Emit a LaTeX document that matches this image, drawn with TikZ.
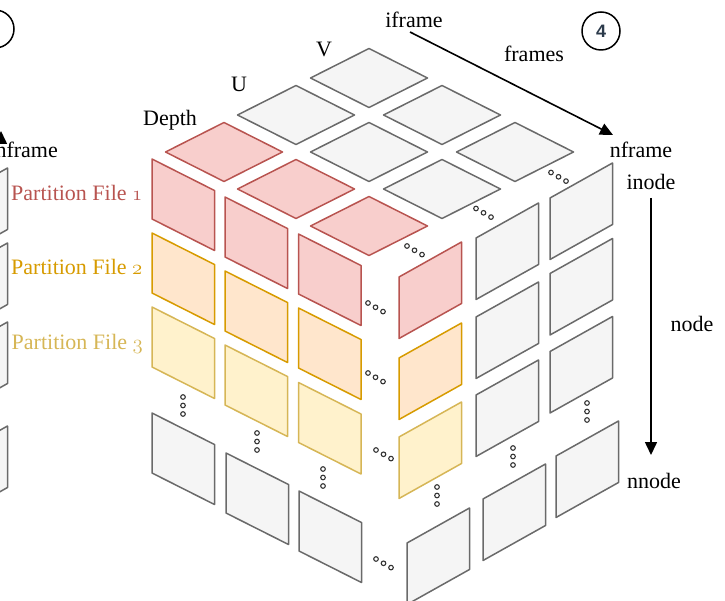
\documentclass[tikz,border=0pt]{standalone}
\usepackage{fontspec}
\setmainfont{Liberation Serif}
\newfontfamily\badgefont{Liberation Sans}
\usetikzlibrary{arrows.meta}
\definecolor{redfill}{HTML}{F8CECC}
\definecolor{redline}{HTML}{B85450}
\definecolor{orgfill}{HTML}{FFE6CC}
\definecolor{orgline}{HTML}{D79B00}
\definecolor{yelfill}{HTML}{FFF2CC}
\definecolor{yelline}{HTML}{D6B656}
\definecolor{grayfill}{HTML}{F5F5F5}
\definecolor{grayline}{HTML}{6A6A6A}
\definecolor{dotline}{HTML}{333333}
\definecolor{badgeink}{HTML}{2B3A4B}
% old-style digits taken from the math italic font
\newcommand\osfig[1]{{\usefont{OML}{cmm}{m}{it}#1}}

\begin{document}
\begin{tikzpicture}[x=1pt,y=-1pt,
  tile/.style={line width=1.5pt,line join=round},
  redtile/.style={tile,fill=redfill,draw=redline},
  orgtile/.style={tile,fill=orgfill,draw=orgline},
  yeltile/.style={tile,fill=yelfill,draw=yelline},
  graytile/.style={tile,fill=grayfill,draw=grayline},
  dotmark/.style={draw=dotline,fill=white,line width=1.1pt},
  lbl/.style={inner sep=0pt,font=\fontsize{22}{26}\selectfont},
  flow/.style={line width=1.6pt,-{Triangle[length=13pt,width=12pt]}},
  badge/.style={circle,draw=black,line width=1.5pt,minimum size=38pt,inner sep=0pt,
    font=\badgefont\bfseries\fontsize{18}{20}\selectfont,text=badgeink}
]
\clip (0,0) rectangle (725,601);

% top face: 3x3 rhombi
\foreach \cx/\cy/\s in {369/78/graytile, 296/115/graytile, 442/115/graytile,
    224/152/redtile, 369/152/graytile, 515/152/graytile,
    296/189/redtile, 442/189/graytile, 369/226/redtile}
  \draw[\s] (\cx-58.5,\cy) -- ++(58.5,-29.5) -- ++(58.5,29.5) -- ++(-58.5,29.5) -- cycle;

% front-left face
\foreach \px/\py/\s in {152/159/redtile, 152/233/orgtile, 152/307/yeltile, 152/413/graytile,
    225/197/redtile, 225/271/orgtile, 225/345/yeltile, 226/453/graytile,
    298.5/234/redtile, 298.5/308/orgtile, 298.5/382.5/yeltile, 299/491/graytile}
  \draw[\s] (\px,\py) -- ++(62.5,31.5) -- ++(0,60) -- ++(-62.5,-31.5) -- cycle;

% front-right face
\foreach \px/\py/\s in {399/277/redtile, 399/358/orgtile, 399/437/yeltile, 407/543/graytile,
    476/238/graytile, 476/317/graytile, 476/395/graytile, 483/499/graytile,
    550/198/graytile, 550/273.5/graytile, 550/351.5/graytile, 556/456/graytile}
  \draw[\s] (\px,\py) -- ++(62.5,-35) -- ++(0,61.5) -- ++(-62.5,35) -- cycle;

% neighbouring cube, cut at the left border
\foreach \ty in {168,243,322,426}
  \draw[graytile] (7.5,\ty) -- ++(0,61.5) -- ++(-62.5,35) -- ++(0,-61.5) -- cycle;
\node[badge] (badgeL) at (-5,29) {};
\node[lbl,anchor=base east] (nframeL) at (58,158) {nframe};
\coordinate (lstart) at (1,143);
\coordinate (lend) at (1,131);
\draw[flow] (lstart) -- (lend);

% ellipsis dots along the diagonals
\foreach \x/\y in {407/246, 476/208.5, 551/172.5, 368/303, 368/373, 376/450, 376/559}
  \foreach \k in {0,1,2}
    \draw[dotmark] (\x+7.5*\k,\y+4.3*\k) circle[radius=2.3pt];
% ellipsis dots going down
\foreach \x/\y in {183/397, 257/433, 323/469, 437/487, 513/448, 587/403}
  \foreach \k in {0,1,2}
    \draw[dotmark] (\x,\y+8.5*\k) circle[radius=2.3pt];

% axis labels
\node[lbl,anchor=base] (iframe) at (414,28) {iframe};
\node[lbl,anchor=base] (vlab) at (324,57) {V};
\node[lbl,anchor=base] (ulab) at (239,92) {U};
\node[lbl,anchor=base] (depth) at (170,126) {Depth};
\node[lbl,anchor=base] (frames) at (534,62) {frames};
\node[lbl,anchor=base] (nframe) at (641,158) {nframe};
\node[lbl,anchor=base] (inode) at (651,190) {inode};
\node[lbl,anchor=base] (nodelab) at (692,332) {node};
\node[lbl,anchor=base] (nnode) at (654,488) {nnode};

% partition labels
\node[lbl,anchor=base west,text=redline] (pf1) at (11,201) {Partition File \osfig{1}};
\node[lbl,anchor=base west,text=orgline] (pf2) at (11,275) {Partition File \osfig{2}};
\node[lbl,anchor=base west,text=yelline] (pf3) at (11.5,349) {Partition File \osfig{3}};

% arrows
\coordinate (fstart) at (410,32);
\coordinate (fend) at (613,135);
\draw[flow] (fstart) -- (fend);
\coordinate (nstart) at (651,198);
\coordinate (nend) at (651,455);
\draw[flow] (nstart) -- (nend);

% step badge
\node[badge] (badge4) at (601,31) {4};
\end{tikzpicture}
\end{document}
